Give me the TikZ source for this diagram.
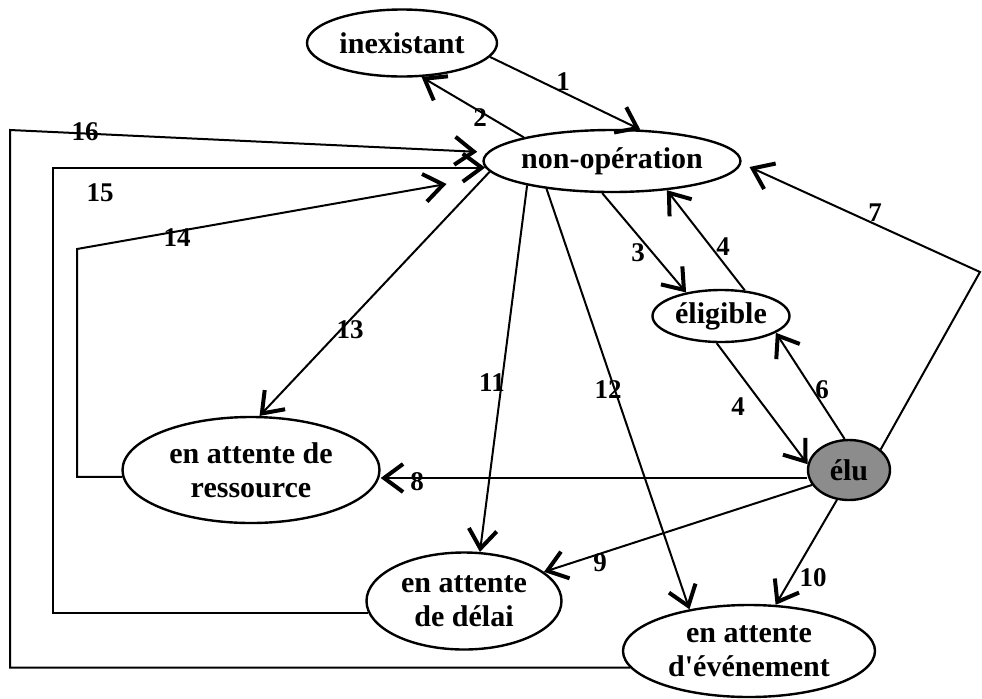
\documentclass[tikz,border=0pt]{standalone}
\usepackage{fontspec}
\setmainfont{Liberation Serif}
\usepackage{tikz}
\usetikzlibrary{arrows.meta,shapes.geometric}
\tikzset{st/.style={draw,ellipse,line width=1.2pt,inner sep=0pt,align=center,font=\fontsize{15}{17}\selectfont\bfseries},
 wire/.style={line width=1pt},arr/.style={wire,-{Straight Barb[length=9.5pt,width=14pt,line width=2pt]}},
 num/.style={font=\fontsize{13.5}{13.5}\selectfont\bfseries,inner sep=0pt}}
\begin{document}
\begin{tikzpicture}[x=.5pt,y=-.5pt]
\useasboundingbox (0,0) rectangle (982,698);
\node[st,minimum width=95pt,minimum height=33.5pt] (inex) at (402,43) {inexistant};
\node[st,minimum width=125.5pt,minimum height=31pt] (nonop) at (612,161) {non-opération};
\node[st,minimum width=68.5pt,minimum height=26pt] (elig) at (721,316) {éligible};
\node[st,fill=black!45,minimum width=41pt,minimum height=30pt] (elu) at (849,470) {élu};
\node[st,minimum width=128.5pt,minimum height=53pt] (ress) at (251,470) {en attente de\\ressource};
\node[st,minimum width=97.5pt,minimum height=48.5pt] (delai) at (464,601) {en attente\\de délai};
\node[st,minimum width=126pt,minimum height=46pt] (evt) at (749,651) {en attente\\d\textquotesingle événement};
\coordinate (c7) at (980,272);\coordinate (c14) at (77,249);
\coordinate (c15) at (53,168);\coordinate (c16) at (10,130);
\draw[arr] (inex.-9)--(nonop.48);\draw[arr] (nonop.165)--(inex.-60);
\draw[arr] (nonop.-107)--(elig.146);\draw[arr] (elig.47)--(nonop.-28);
\draw[arr] (elig.-99)--(elu.172);\draw[arr] (elu.98)--(elig.-17);
\draw[arr,shorten >=4.5pt] (elu.33)--(c7)--(nonop.-1);
\draw[arr] ([yshift=-4pt]elu.west)--([yshift=-4pt]ress.east);
\draw[arr] (elu.202)--(delai.20);\draw[arr] (elu.248)--(evt.60);
\draw[arr] (nonop.196)--(delai.72);\draw[arr] (nonop.203)--(evt.145);
\draw[arr] (nonop.185)--(ress.81);
\draw[arr,shorten >=25pt] (ress.183) -| (c14)--(nonop.187);
\draw[arr] (delai.187) -| (c15) |- (nonop.183);
\draw[arr,shorten >=5pt] (evt.188) -| (c16)--(nonop.176);
\foreach \t/\x/\y [count=\i] in {1/563/82,2/480/118,3/638/253,4/723/247,4/738/407,6/822/390,
 7/875/213,8/417/482,9/600/563,10/813/578,11/492/383,12/608/390,13/350/330,14/177/238,15/100/193,16/85/132}
 {\node[num] (n\i) at (\x,\y) {\t};}
\end{tikzpicture}
\end{document}
